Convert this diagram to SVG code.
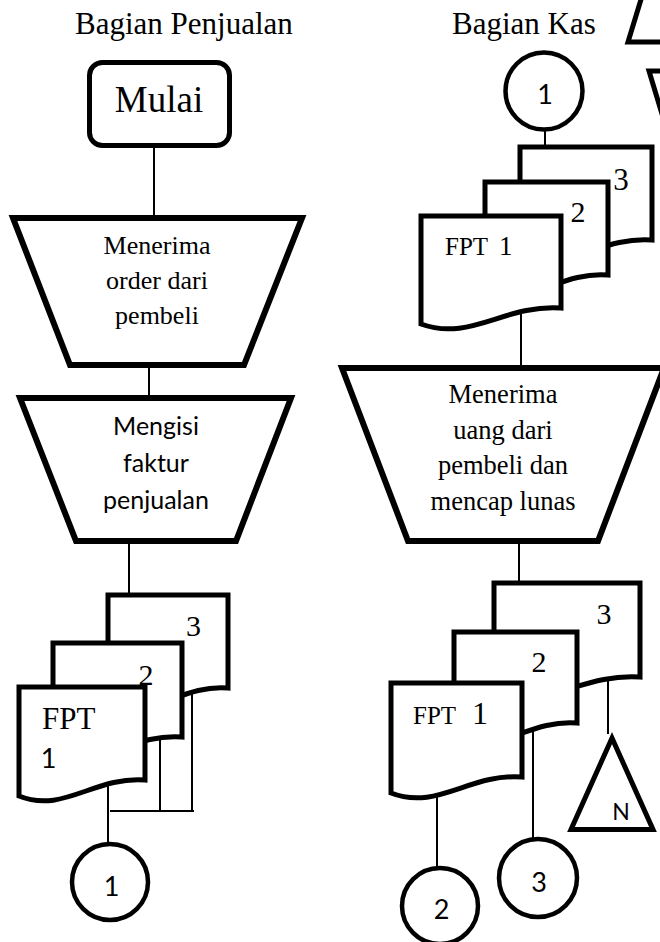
<svg xmlns="http://www.w3.org/2000/svg" width="660" height="942" viewBox="0 0 660 942">
  <style>
    .shape { fill: #fff; stroke: #000; stroke-width: 5; stroke-linejoin: miter; }
    .trap { fill: #fff; stroke: #000; stroke-width: 6; stroke-linejoin: miter; }
    .ring { fill: #fff; stroke: #000; stroke-width: 4.5; }
    .line { fill: none; stroke: #000; stroke-width: 2; }
    .serif { font-family: "Liberation Serif", "Times New Roman", serif; fill: #000; }
    .sans { font-family: Lato, "Open Sans", "Liberation Sans", sans-serif; fill: #000; }
    .mid { text-anchor: middle; }
  </style>

  <!-- lane headings -->
  <g id="lane-titles">
    <text class="serif" x="75" y="34" font-size="31">Bagian Penjualan</text>
    <text class="serif" x="452" y="34" font-size="31">Bagian Kas</text>
  </g>

  <!-- connectors -->
  <g id="connectors">
    <line class="line" x1="154" y1="148" x2="154" y2="218"/>
    <line class="line" x1="149" y1="365" x2="149" y2="398"/>
    <line class="line" x1="129" y1="541" x2="129" y2="595"/>
    <line class="line" x1="108" y1="784" x2="108" y2="844"/>
    <line class="line" x1="110" y1="811" x2="194" y2="811"/>
    <line class="line" x1="160" y1="739" x2="160" y2="811"/>
    <line class="line" x1="192" y1="693" x2="192" y2="811"/>
    <line class="line" x1="545" y1="130" x2="545" y2="147"/>
    <line class="line" x1="521" y1="312" x2="521" y2="368"/>
    <line class="line" x1="519" y1="541" x2="519" y2="583"/>
    <line class="line" x1="437" y1="795" x2="437" y2="868"/>
    <line class="line" x1="533" y1="730" x2="533" y2="839"/>
    <line class="line" x1="608" y1="679" x2="608" y2="734"/>
  </g>

  <!-- Bagian Penjualan -->
  <g id="mulai">
    <rect class="shape" x="89.5" y="62.5" width="140" height="83" rx="13"/>
    <text class="serif mid" x="159" y="112" font-size="37">Mulai</text>
  </g>

  <g id="menerima-order">
    <polygon class="trap" points="13,218 302,218 244,365 70,365"/>
    <text class="serif mid" x="157" y="254" font-size="26">Menerima</text>
    <text class="serif mid" x="157" y="289" font-size="26">order dari</text>
    <text class="serif mid" x="157" y="324" font-size="26">pembeli</text>
  </g>

  <g id="mengisi-faktur">
    <polygon class="trap" points="20,398 291,398 236,541 76,541"/>
    <text class="sans mid" x="156" y="435" font-size="25">Mengisi</text>
    <text class="sans mid" x="156" y="472" font-size="25">faktur</text>
    <text class="sans mid" x="156" y="509" font-size="25">penjualan</text>
  </g>

  <g id="fpt-penjualan">
    <path class="shape" d="M108,595 H228 V688 C180,684 150,722 108,704 Z"/>
    <text class="serif mid" x="193.5" y="636" font-size="30">3</text>
    <path class="shape" d="M53,643 H182 V737 C130.4,733 98.2,771 53,753 Z"/>
    <text class="serif mid" x="146" y="685" font-size="30">2</text>
    <path class="shape" d="M19,687 H145 V780 C94.6,776 63.1,814 19,796 Z"/>
    <text class="serif" x="42" y="729" font-size="31">FPT</text>
    <text class="sans mid" x="48.5" y="768" font-size="27">1</text>
  </g>

  <g id="konektor-1-keluar">
    <circle class="ring" cx="110" cy="882" r="38"/>
    <text class="sans mid" x="111.5" y="896" font-size="27">1</text>
  </g>

  <!-- Bagian Kas -->
  <g id="konektor-1-masuk">
    <circle class="ring" cx="544" cy="91" r="38.5"/>
    <text class="sans mid" x="545" y="104" font-size="27">1</text>
  </g>

  <g id="fpt-kas-masuk">
    <path class="shape" d="M520,147 H652 V240 C599.2,236 566.2,274 520,256 Z"/>
    <text class="serif mid" x="621" y="190" font-size="31">3</text>
    <path class="shape" d="M485,182 H608 V275 C558.8,271 528,309 485,291 Z"/>
    <text class="serif mid" x="578" y="222" font-size="30">2</text>
    <path class="shape" d="M421,216 H561 V308 C505,304 470,342 421,324 Z"/>
    <text class="serif" x="445" y="255" font-size="25">FPT</text>
    <text class="serif" x="499" y="255" font-size="27">1</text>
  </g>

  <g id="menerima-uang">
    <polygon class="trap" points="342,368 664,368 598,541 408,541"/>
    <text class="serif mid" x="503" y="403" font-size="26.5">Menerima</text>
    <text class="serif mid" x="503" y="439" font-size="26.5">uang dari</text>
    <text class="serif mid" x="503" y="474" font-size="26.5">pembeli dan</text>
    <text class="serif mid" x="503" y="510" font-size="26.5">mencap lunas</text>
  </g>

  <g id="fpt-kas-lunas">
    <path class="shape" d="M494,583 H640 V677 C581.6,673 545.1,711 494,693 Z"/>
    <text class="serif mid" x="604" y="624" font-size="30">3</text>
    <path class="shape" d="M454,632 H577 V723 C527.8,719 497,757 454,739 Z"/>
    <text class="serif mid" x="539" y="672" font-size="30">2</text>
    <path class="shape" d="M391,683 H522 V777 C469.6,773 436.9,811 391,793 Z"/>
    <text class="serif" x="413" y="724" font-size="25">FPT</text>
    <text class="serif" x="472" y="724" font-size="32">1</text>
  </g>

  <g id="konektor-2">
    <circle class="ring" cx="440" cy="906" r="38"/>
    <text class="sans mid" x="441.5" y="919" font-size="27">2</text>
  </g>

  <g id="konektor-3">
    <circle class="ring" cx="538" cy="878" r="39"/>
    <text class="sans mid" x="539" y="892" font-size="27">3</text>
  </g>

  <g id="arsip-n">
    <polygon class="shape" points="612,738 653,829.5 571,829.5"/>
    <text class="sans mid" x="621" y="820" font-size="23">N</text>
  </g>

  <!-- symbols continuing past the right edge -->
  <g id="simbol-tepi-atas">
    <polygon class="shape" points="628,42 650,-30 720,42"/>
  </g>
  <g id="simbol-tepi-bawah">
    <polygon class="shape" points="649,71 740,71 694,220"/>
  </g>
</svg>
